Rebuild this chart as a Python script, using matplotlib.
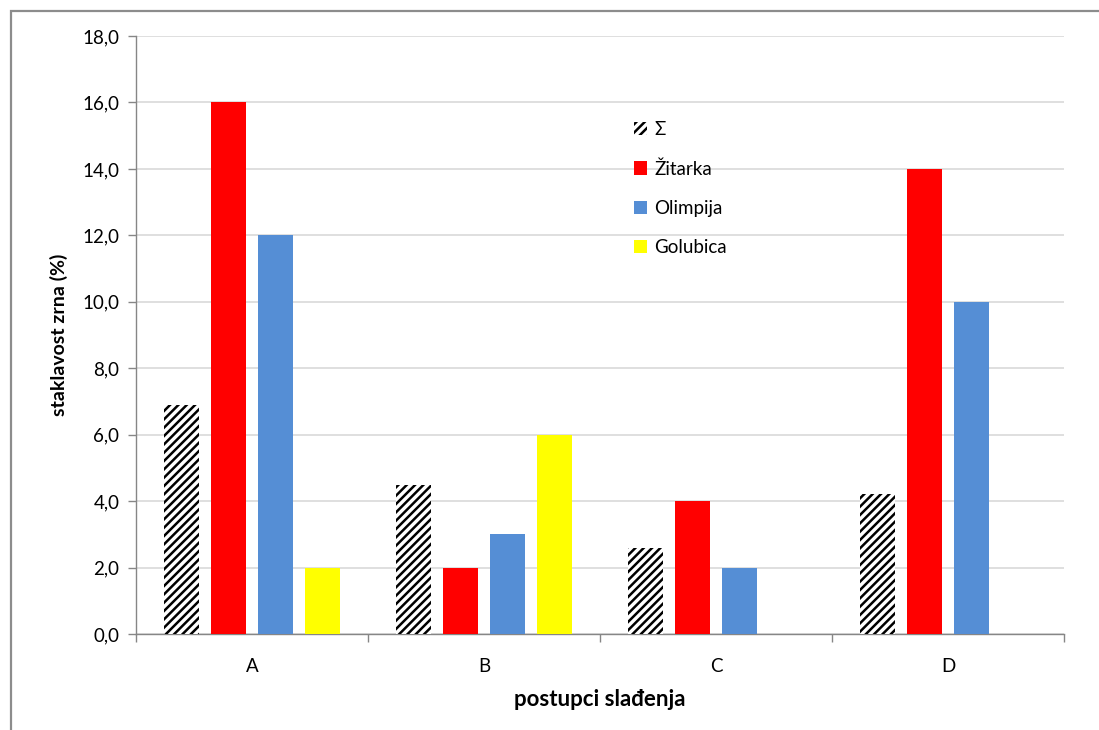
import matplotlib.pyplot as plt
import numpy as np
from matplotlib.patches import Rectangle
from matplotlib.ticker import FuncFormatter, FixedLocator

# podaci
kategorije = ["A", "B", "C", "D"]
serije = ["Σ", "Žitarka", "Olimpija", "Golubica"]
suma = [6.9, 4.5, 2.6, 4.2]
zitarka = [16.0, 2.0, 4.0, 14.0]
olimpija = [12.0, 3.0, 2.0, 10.0]
golubica = [2.0, 6.0, 0.0, 0.0]
vrijednosti = [suma, zitarka, olimpija, golubica]
boje = ["white", "#FF0000", "#558ED5", "#FFFF00"]

plt.rcParams['font.family'] = ['Lato', 'DejaVu Sans']
plt.rcParams['hatch.linewidth'] = 1.8

fig = plt.figure(figsize=(10.99, 7.30), dpi=100)
ax = fig.add_axes([136/1099, 1-634/730, (1064-136)/1099, (634-36)/730])

# okvir oko grafikona (vidljiv samo gore i lijevo)
fig.patches.append(Rectangle((11/1099, -0.2), 1.2, 1.2 - 11/730, transform=fig.transFigure,
                             fill=False, edgecolor="#8C8C8C", linewidth=1.6))

x = np.arange(len(kategorije))
korak = 0.2026
sirina = 0.155
for i, (naziv, v, c) in enumerate(zip(serije, vrijednosti, boje)):
    pomak = (i - 1.5) * korak
    if naziv == "Σ":
        ax.bar(x + pomak, v, sirina, color="white", edgecolor="black", hatch="////",
               linewidth=0, label=naziv, zorder=3)
    else:
        ax.bar(x + pomak, v, sirina, color=c, linewidth=0, label=naziv, zorder=3)

ax.set_xlim(-0.5, 3.5)
ax.set_ylim(0, 18)
ax.set_yticks(np.arange(0, 18.1, 2))
ax.yaxis.set_major_formatter(FuncFormatter(lambda v, p: f"{v:.1f}".replace(".", ",")))
ax.grid(axis="y", color="#D9D9D9", linewidth=1.2, zorder=0)

ax.xaxis.set_major_locator(FixedLocator([-0.5, 0.5, 1.5, 2.5, 3.5]))
ax.xaxis.set_minor_locator(FixedLocator(x))
ax.set_xticklabels([], minor=False)
ax.set_xticklabels(kategorije, minor=True)
ax.tick_params(axis="x", which="major", length=6, color="#868686", width=1)
ax.tick_params(axis="x", which="minor", length=0, pad=17, labelsize=13.5)
ax.tick_params(axis="y", length=6, color="#868686", width=1, labelsize=13.5, pad=6)

for s in ["top", "right"]:
    ax.spines[s].set_visible(False)
for s in ["left", "bottom"]:
    ax.spines[s].set_color("#868686")
    ax.spines[s].set_linewidth(1)

ax.set_xlabel("postupci slađenja", fontsize=16, fontweight="bold", labelpad=10)
ax.set_ylabel("staklavost zrna (%)", fontsize=14, fontweight="bold", labelpad=10)

ax.legend(loc="upper left", bbox_to_anchor=(0.537, 0.858), frameon=False, fontsize=13.5,
          handlelength=0.7, handleheight=0.7, handletextpad=0.35, labelspacing=1.18,
          borderpad=0, borderaxespad=0)

fig.savefig("out.png", dpi=100, facecolor="white")
